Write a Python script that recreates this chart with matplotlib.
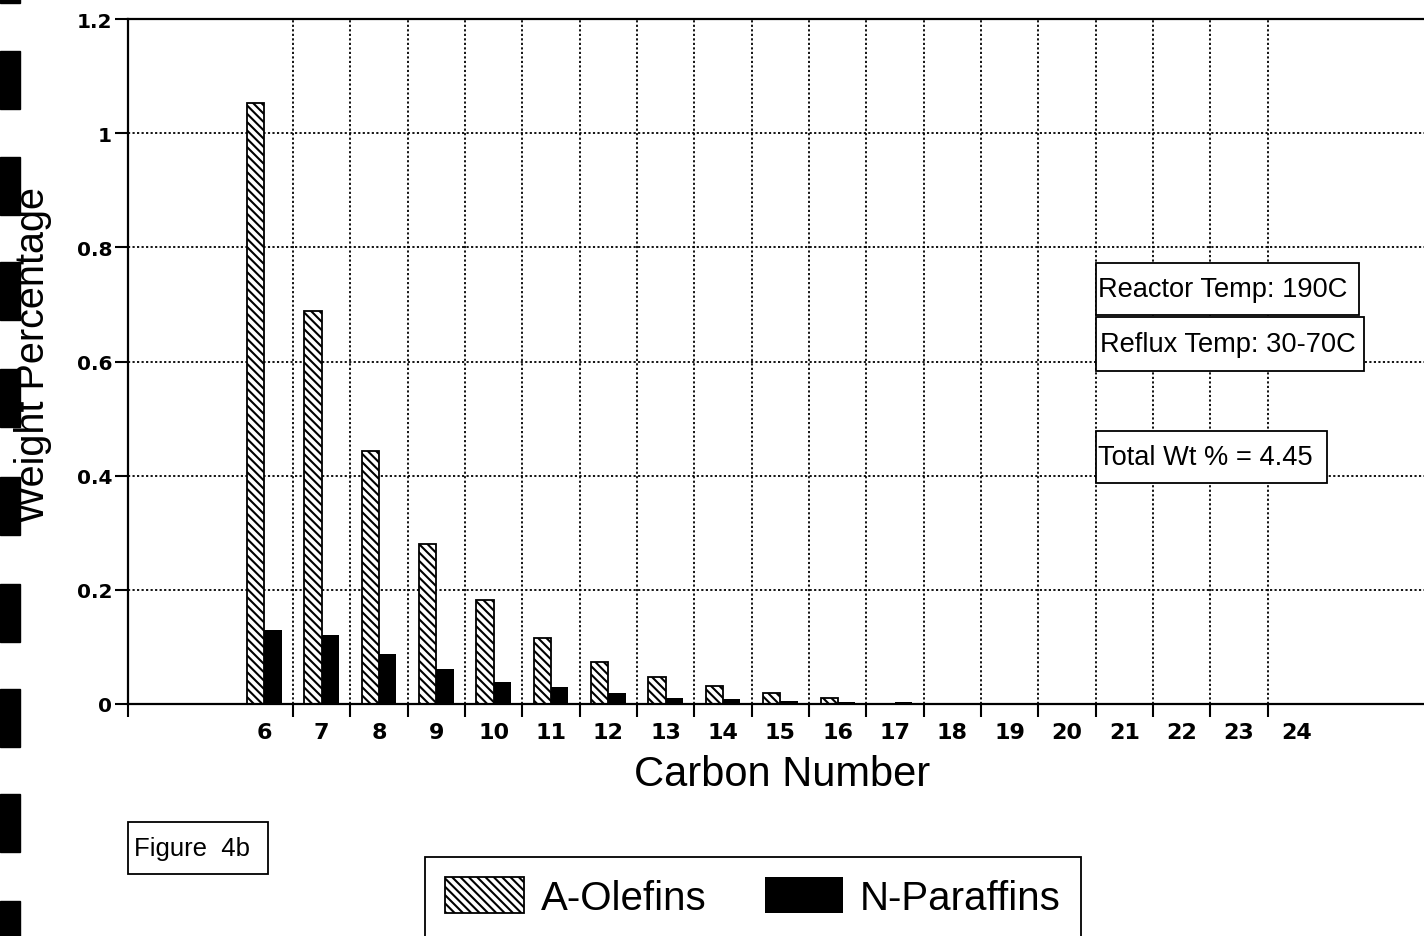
import matplotlib
matplotlib.use("Agg")
import matplotlib.pyplot as plt
from matplotlib.patches import Rectangle
import numpy as np

# data
carbon = [6, 7, 8, 9, 10, 11, 12, 13, 14, 15, 16, 17, 18, 19, 20, 21, 22, 23, 24]
olefins = [1.053, 0.689, 0.444, 0.280, 0.183, 0.116, 0.074, 0.047, 0.031, 0.020,
           0.011, 0.0, 0, 0, 0, 0, 0, 0, 0]
paraffins = [0.130, 0.121, 0.088, 0.061, 0.039, 0.030, 0.019, 0.010, 0.008, 0.006,
             0.004, 0.003, 0, 0, 0, 0, 0, 0, 0]
yticks = [0, 0.2, 0.4, 0.6, 0.8, 1.0, 1.2]
ytick_labels = ["0", "0.2", "0.4", "0.6", "0.8", "1", "1.2"]
notes = ["Reactor Temp: 190C", "Reflux Temp: 30-70C", "Total Wt % = 4.45"]

W, H = 1424, 937
plt.rcParams['font.family'] = ['Liberation Sans', 'DejaVu Sans']
plt.rcParams['hatch.linewidth'] = 1.5

fig = plt.figure(figsize=(W / 100, H / 100), dpi=100)


def fx(px):
    return px / W


def fy(py):
    return 1 - py / H


# axes runs off the right edge of the page like the scan
x_left, x_right = -2.377, 21.55
ax = fig.add_axes([fx(128), fy(705), fx(1500 - 128), (705 - 20) / H])

x = np.arange(len(carbon))
b1 = ax.bar(x - 0.15, olefins, 0.3, facecolor='white', edgecolor='black',
            hatch='\\\\\\\\', linewidth=1.3, label='A-Olefins')
b2 = ax.bar(x + 0.15, paraffins, 0.3, color='black', label='N-Paraffins')

ax.set_xlim(x_left, x_right)
ax.set_ylim(0, 1.2)

ax.set_xticks([x_left] + [i + 0.5 for i in range(len(carbon) - 1)])
ax.set_xticklabels([])
ax.set_xticks(x, minor=True)
ax.set_xticklabels([str(c) for c in carbon], minor=True, fontsize=16,
                   fontweight='bold', family='DejaVu Sans')
ax.tick_params(axis='x', which='major', direction='out', length=9.5, width=1.5)
ax.tick_params(axis='x', which='minor', length=0, pad=13)

ax.set_yticks(yticks)
ax.set_yticklabels(ytick_labels, fontsize=14.5, fontweight='bold', family='DejaVu Sans')
ax.tick_params(axis='y', direction='out', length=9.5, width=1.5, pad=2)

ax.set_axisbelow(True)
ax.grid(True, which='major', color='black', linestyle=(0, (1.2, 1.3)), linewidth=1.3)
for s in ['left', 'bottom', 'top']:
    ax.spines[s].set_linewidth(1.6)
ax.spines['right'].set_visible(False)

ax.set_xlabel('Carbon Number', fontsize=30, va='center')
ax.xaxis.set_label_coords((782 - 128) / (1500 - 128), (705 - 775) / 685)

fig.text(fx(33), fy(355), 'Weight Percentage', rotation=90, fontsize=28.5,
         ha='center', va='center')


# boxed notes (pixel boxes)
def boxed(text, l, t, r, b, tx, size):
    fig.patches.append(Rectangle((fx(l), fy(b)), fx(r - l), (b - t) / H,
                                 transform=fig.transFigure, facecolor='white',
                                 edgecolor='black', linewidth=1.3, zorder=5))
    fig.text(fx(tx), fy((t + b) / 2), text, fontsize=size, ha='left', va='center',
             zorder=6)


boxed(notes[0], 1096, 264, 1359, 316, 1098, 19.6)
boxed(notes[1], 1096, 318, 1364, 372, 1100, 19.6)
boxed(notes[2], 1096, 432, 1327, 484, 1098, 19.6)
boxed('Figure  4b', 128, 823, 268, 875, 134, 18.5)

leg = fig.legend(handles=[b1, b2], loc='upper left', ncol=2,
                 bbox_to_anchor=(fx(425), fy(858)), bbox_transform=fig.transFigure,
                 borderaxespad=0, fontsize=29, handlelength=1.95, handleheight=1.0,
                 handletextpad=0.42, columnspacing=1.45, borderpad=0.5,
                 fancybox=False, framealpha=1, edgecolor='black')
leg.get_frame().set_linewidth(1.3)

# black marks down the left edge of the scanned page
for top in [-54, 52, 158, 263, 370, 478, 585, 690, 795, 902]:
    fig.patches.append(Rectangle((0, fy(top + 58)), fx(20), 58 / H,
                                 transform=fig.transFigure, color='black', zorder=0))

fig.savefig('out.png', dpi=100)
